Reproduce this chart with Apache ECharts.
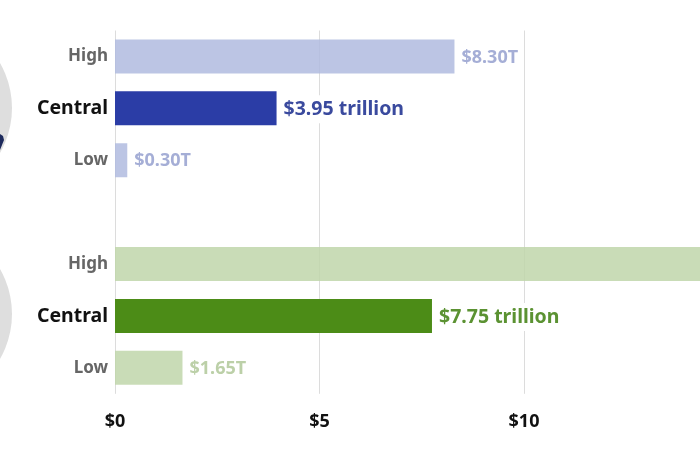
<!DOCTYPE html>
<html><head><meta charset="utf-8">
<style>html,body{margin:0;padding:0;background:#fff}#c{width:700px;height:450px}</style>
<script src="https://cdn.jsdelivr.net/npm/echarts@6/dist/echarts.min.js"></script>
</head><body><div id="c"></div>
<script>
const categories = ['High','Central','Low','','High','Central','Low'];
const values = [8.30,3.95,0.30,null,16.0,7.75,1.65];
const valueLabels = ['$8.30T','$3.95 trillion','$0.30T','','','$7.75 trillion','$1.65T'];
const xTicks = [0,5,10,15,20];

const FONT = 'Noto Sans';
const palette = {
  blue:{light:'rgba(176,187,223,.85)',dark:'#2b3da6',lightText:'#a5aed6',darkText:'#3a4a9e'},
  green:{light:'rgba(191,214,170,.85)',dark:'#4c8c17',lightText:'#bcd0a8',darkText:'#5b9232'}
};
const rowStyle = i => {
  const p = i < 3 ? palette.blue : palette.green;
  const central = categories[i] === 'Central';
  return {bar: central ? p.dark : p.light, text: central ? p.darkText : p.lightText, central};
};
const chart = echarts.init(document.getElementById('c'), null, {renderer:'canvas'});
chart.setOption({
  animation:false,
  backgroundColor:'#fff',
  grid:{left:115,top:30.5,width:818,height:363.3,outerBoundsMode:'none'},
  xAxis:{type:'value',min:xTicks[0],max:xTicks[xTicks.length-1],interval:xTicks[1]-xTicks[0],
    axisLine:{show:false},axisTick:{show:false},
    splitLine:{show:true,lineStyle:{color:'#dcdcdc',width:1}},
    axisLabel:{margin:19,fontFamily:FONT,fontWeight:700,fontSize:18,color:'#111',
      formatter:v=>'$'+v}},
  yAxis:{type:'category',inverse:true,
    data:categories.map((c,i)=>({value:c,textStyle:{color:rowStyle(i).central?'#111':'#666',fontSize:rowStyle(i).central?19.5:17}})),
    axisLine:{show:false},axisTick:{show:false},splitLine:{show:false},
    axisLabel:{margin:7,fontFamily:FONT,fontWeight:700,interval:0,padding:[3,0,0,0]}},
  series:[{type:'bar',barWidth:34,z:1,
    data:values.map((v,i)=>({value:v,itemStyle:{color:rowStyle(i).bar},
      label:{show:!!valueLabels[i],position:'right',distance:7,offset:[0,1],formatter:valueLabels[i],
        color:rowStyle(i).text,fontFamily:FONT,fontWeight:700,fontSize:rowStyle(i).central?19.5:18,
        backgroundColor:'#fff',padding:[4,0]}}))}],
  graphic:[
    {type:'circle',shape:{cx:-78,cy:108,r:90},style:{fill:'#dedede'},z:0},
    {type:'circle',shape:{cx:-78,cy:314,r:90},style:{fill:'#dedede'},z:0},
    {type:'polygon',shape:{points:[[0,150],[4,140],[3,136],[0,134]]},style:{fill:'#1d2a5c'},z:1}
  ]
});
</script></body></html>
